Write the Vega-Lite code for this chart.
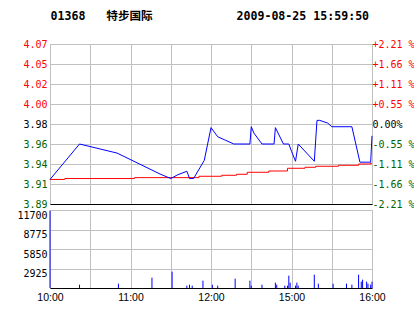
{
  "$schema": "https://vega.github.io/schema/vega-lite/v6.json",
  "background": "white",
  "padding": {"left": 0, "right": 0, "top": 10, "bottom": 0},
  "title": {
    "text": "01368\u00a0\u00a0\u00a0特步国际\u00a0\u00a0\u00a0\u00a0\u00a0\u00a0\u00a0\u00a0\u00a0\u00a0\u00a0\u00a02009-08-25 15:59:50",
    "font": "DejaVu Sans Mono, Noto Sans CJK SC",
    "fontSize": 11.6,
    "fontWeight": "bold",
    "color": "#000000",
    "anchor": "start",
    "frame": "bounds",
    "dx": 50,
    "offset": 16
  },
  "spacing": 6,
  "bounds": "flush",
  "datasets": {
    "price": [
      {"t": 0, "price": 3.919},
      {"t": 22, "price": 3.958},
      {"t": 50, "price": 3.948},
      {"t": 82, "price": 3.925},
      {"t": 90, "price": 3.920},
      {"t": 95, "price": 3.924},
      {"t": 102, "price": 3.928},
      {"t": 104, "price": 3.920},
      {"t": 107, "price": 3.920},
      {"t": 115, "price": 3.940},
      {"t": 120, "price": 3.976},
      {"t": 125, "price": 3.966},
      {"t": 131, "price": 3.962},
      {"t": 137, "price": 3.958},
      {"t": 149, "price": 3.958},
      {"t": 150, "price": 3.977},
      {"t": 152, "price": 3.970},
      {"t": 158, "price": 3.958},
      {"t": 167, "price": 3.958},
      {"t": 168, "price": 3.976},
      {"t": 174, "price": 3.958},
      {"t": 178, "price": 3.958},
      {"t": 180, "price": 3.950},
      {"t": 183, "price": 3.939},
      {"t": 185, "price": 3.958},
      {"t": 197, "price": 3.939},
      {"t": 199, "price": 3.984},
      {"t": 201, "price": 3.984},
      {"t": 207, "price": 3.981},
      {"t": 210, "price": 3.977},
      {"t": 225, "price": 3.977},
      {"t": 231, "price": 3.938},
      {"t": 239, "price": 3.938},
      {"t": 240, "price": 3.967}
    ],
    "avg": [
      {"t": 0, "avg": 3.919},
      {"t": 11, "avg": 3.920},
      {"t": 63, "avg": 3.921},
      {"t": 111, "avg": 3.9225},
      {"t": 128, "avg": 3.9236},
      {"t": 139, "avg": 3.9247},
      {"t": 147, "avg": 3.9269},
      {"t": 163, "avg": 3.9283},
      {"t": 177, "avg": 3.9313},
      {"t": 190, "avg": 3.9324},
      {"t": 198, "avg": 3.9335},
      {"t": 215, "avg": 3.9346},
      {"t": 230, "avg": 3.936},
      {"t": 239, "avg": 3.9368},
      {"t": 240, "avg": 3.9368}
    ],
    "volume": [
      {"t": 0, "vol": 11600},
      {"t": 22, "vol": 500},
      {"t": 51, "vol": 650},
      {"t": 76, "vol": 1550},
      {"t": 91, "vol": 2450},
      {"t": 102, "vol": 350},
      {"t": 104, "vol": 500},
      {"t": 106, "vol": 350},
      {"t": 114, "vol": 1100},
      {"t": 121, "vol": 500},
      {"t": 125, "vol": 350},
      {"t": 138, "vol": 1400},
      {"t": 149, "vol": 1100},
      {"t": 150, "vol": 350},
      {"t": 158, "vol": 500},
      {"t": 168, "vol": 800},
      {"t": 169, "vol": 500},
      {"t": 175, "vol": 350},
      {"t": 177, "vol": 350},
      {"t": 178, "vol": 1850},
      {"t": 179, "vol": 800},
      {"t": 183, "vol": 350},
      {"t": 184, "vol": 800},
      {"t": 185, "vol": 350},
      {"t": 197, "vol": 2000},
      {"t": 200, "vol": 650},
      {"t": 211, "vol": 650},
      {"t": 221, "vol": 650},
      {"t": 225, "vol": 500},
      {"t": 230, "vol": 2000},
      {"t": 232, "vol": 950},
      {"t": 233, "vol": 1250},
      {"t": 236, "vol": 950},
      {"t": 237, "vol": 650},
      {"t": 239, "vol": 500},
      {"t": 240, "vol": 950}
    ]
  },
  "vconcat": [
    {
      "width": 322,
      "height": 160,
      "layer": [
        {
          "mark": {"type": "rule", "color": "#000000", "strokeWidth": 1},
          "encoding": {
            "y": {
              "datum": 3.98,
              "type": "quantitative",
              "scale": {"domain": [3.892, 4.068], "nice": false, "zero": false},
              "title": null,
              "axis": {
                "orient": "left",
                "values": [3.892, 3.914, 3.936, 3.958, 3.98, 4.002, 4.024, 4.046, 4.068],
                "format": ".2f",
                "grid": true,
                "labelOverlap": false,
                "labelPadding": 3,
                "labelBaseline": "middle",
                "minExtent": 49,
                "maxExtent": 49,
                "labelColor": {"condition": [{"test": "datum.value > 3.981", "value": "#ff0000"}, {"test": "datum.value < 3.979", "value": "#006400"}], "value": "#000000"}
              }
            }
          }
        },
        {
          "data": {"name": "avg"},
          "mark": {"type": "line", "color": "#ff0000", "strokeWidth": 1, "interpolate": "step-after"},
          "encoding": {
            "x": {"field": "t", "type": "quantitative", "scale": {"domain": [0, 240], "nice": false, "zero": false}, "title": null,
              "axis": {"values": [0, 30, 60, 90, 120, 150, 180, 210, 240], "grid": true, "labels": false, "domain": true, "domainColor": "#000000", "minExtent": 0, "maxExtent": 0}},
            "y": {
              "field": "avg",
              "type": "quantitative",
              "scale": {"domain": [3.892, 4.068], "nice": false, "zero": false},
              "title": null,
              "axis": {
                "orient": "right",
                "values": [3.892, 3.914, 3.936, 3.958, 3.98, 4.002, 4.024, 4.046, 4.068],
                "labelExpr": "abs(datum.value-3.98)<0.001 ? '\u00a00.00%' : (datum.value>3.98 ? '+' : '-') + format(abs(datum.value-3.98)/3.98*100, '.2f') + '\u00a0%'",
                "grid": false,
                "labelOverlap": false,
                "labelPadding": 0,
                "labelAlign": "left",
                "labelBaseline": "middle",
                "minExtent": 43,
                "maxExtent": 43,
                "labelColor": {"condition": [{"test": "datum.value > 3.981", "value": "#ff0000"}, {"test": "datum.value < 3.979", "value": "#006400"}], "value": "#000000"}
              }
            }
          }
        },
        {
          "data": {"name": "price"},
          "mark": {"type": "line", "color": "#0000ff", "strokeWidth": 1},
          "encoding": {
            "x": {"field": "t", "type": "quantitative"},
            "y": {"field": "price", "type": "quantitative", "scale": {"domain": [3.892, 4.068], "nice": false, "zero": false}, "axis": null}
          }
        }
      ],
      "resolve": {"scale": {"y": "independent"}}
    },
    {
      "width": 322,
      "height": 78,
      "data": {"name": "volume"},
      "mark": {"type": "rule", "color": "#0000ff", "strokeWidth": 1},
      "encoding": {
        "x": {
          "field": "t",
          "type": "quantitative",
          "scale": {"domain": [0, 240], "nice": false, "zero": false},
          "title": null,
          "axis": {
            "values": [0, 30, 60, 90, 120, 150, 180, 210, 240],
            "grid": true,
            "domain": true,
            "domainColor": "#000000",
            "labelExpr": "datum.value==0 ? '10:00' : datum.value==60 ? '11:00' : datum.value==120 ? '12:00' : datum.value==180 ? '15:00' : datum.value==240 ? '16:00' : ''",
            "labelFont": "Liberation Sans",
            "labelFontSize": 10.5,
            "labelPadding": 4,
            "labelFlush": false,
            "labelOverlap": false
          }
        },
        "y": {
          "field": "vol",
          "type": "quantitative",
          "scale": {"domain": [0, 11700], "nice": false},
          "title": null,
          "axis": {
            "values": [0, 2925, 5850, 8775, 11700],
            "format": "d",
            "labelExpr": "datum.value==0 ? '' : datum.label",
            "grid": true,
            "labelOverlap": false,
            "labelBaseline": "top",
            "labelPadding": 3,
            "minExtent": 49,
            "maxExtent": 49
          }
        },
        "y2": {"datum": 0}
      }
    }
  ],
  "config": {
    "view": {"stroke": "#c0c0c0"},
    "axis": {
      "gridColor": "#c0c0c0",
      "gridOpacity": 1,
      "gridWidth": 1,
      "domain": false,
      "ticks": false,
      "tickSize": 0,
      "labelFont": "DejaVu Sans Mono",
      "labelFontSize": 10,
      "labelColor": "#000000"
    }
  }
}
